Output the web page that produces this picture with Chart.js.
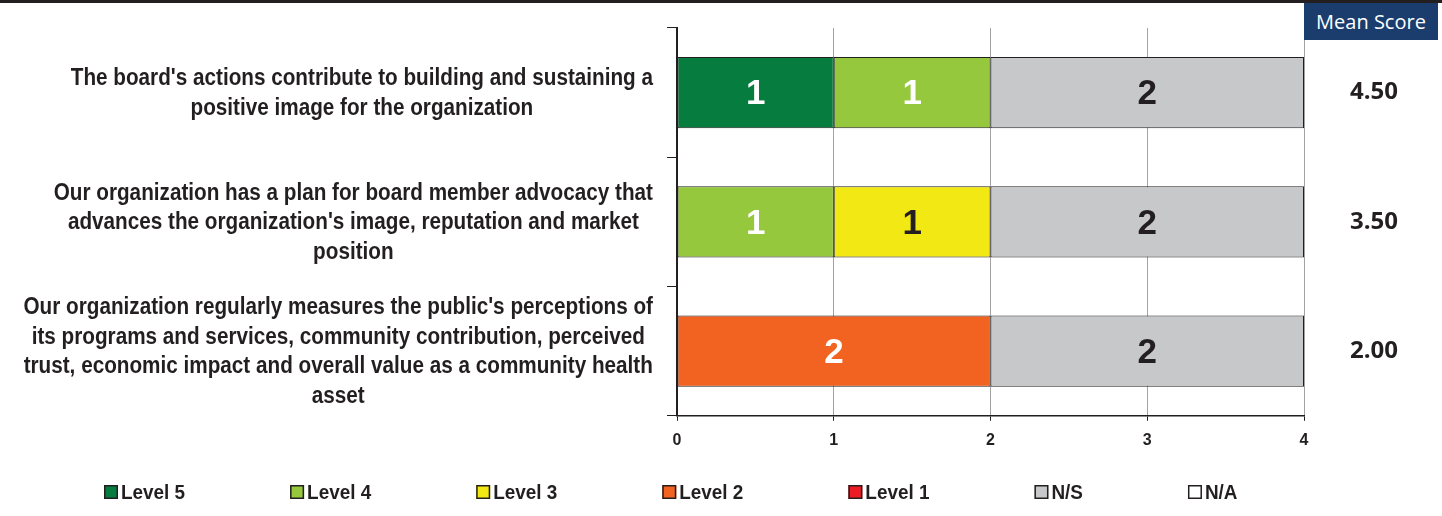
<!DOCTYPE html>
<html>
<head>
<meta charset="utf-8">
<script src="https://cdn.jsdelivr.net/npm/chart.js@4/dist/chart.umd.min.js"></script>
<style>
  html, body { margin: 0; padding: 0; background: #fff; }
  #wrap { position: relative; width: 1442px; height: 516px; overflow: hidden; }
  #topRule { position: absolute; left: 0; top: 0; width: 1442px; height: 3px; background: #231f20; }
  #meanHead {
    position: absolute; left: 1304px; top: 3px; width: 134px; height: 37px;
    background: #1a3d6d; color: #fff; font: 20px "Open Sans", sans-serif;
    display: flex; align-items: center; justify-content: center; z-index: 2;
  }
  canvas { position: absolute; left: 0; top: 0; }
</style>
</head>
<body>
<div id="wrap">
  <canvas id="chart" width="1442" height="516"></canvas>
  <div id="topRule"></div>
  <div id="meanHead">Mean Score</div>
</div>
<script>
// ===== DATA =====
const questions = [
  ["The board's actions contribute to building and sustaining a", "positive image for the organization"],
  ["Our organization has a plan for board member advocacy that", "advances the organization's image, reputation and market", "position"],
  ["Our organization regularly measures the public's perceptions of", "its programs and services, community contribution, perceived", "trust, economic impact and overall value as a community health", "asset"]
];
const meanScores = ["4.50", "3.50", "2.00"];
const levelNames = ["Level 5", "Level 4", "Level 3", "Level 2", "Level 1", "N/S", "N/A"];
const level5 = [1, null, null];
const level4 = [1, 1, null];
const level3 = [null, 1, null];
const level2 = [null, null, 2];
const level1 = [null, null, null];
const notSure = [2, 2, 2];
const notApplicable = [null, null, null];
const xMin = 0, xMax = 4;

// ===== STYLE =====
const INK = "#231f20";
const LABEL_FONT = "bold 23px 'Liberation Sans', Arial, sans-serif";
const LEGEND_FONT = "bold 21px 'Liberation Sans', Arial, sans-serif";
const NARROW_X = 0.9; // squeeze Arial-like glyphs into a condensed look
const levelColors = ["#077c3f", "#95c83d", "#f2e813", "#f26322", "#ed1c24", "#c7c8ca", "#ffffff"];
const valueColors = ["#ffffff", "#ffffff", INK, "#ffffff", "#ffffff", INK, INK];
const series = [level5, level4, level3, level2, level1, notSure, notApplicable];

function narrowText(ctx, text, x, y) {
  ctx.save();
  ctx.translate(x, y);
  ctx.scale(NARROW_X, 1);
  ctx.fillText(text, 0, 0);
  ctx.restore();
}

// ===== PLUGINS =====
// count labels inside the bars
const valueLabels = {
  id: "valueLabels",
  afterDatasetsDraw(chart) {
    const ctx = chart.ctx;
    ctx.save();
    ctx.font = "bold 35px 'Liberation Sans', Arial, sans-serif";
    ctx.textAlign = "center";
    ctx.textBaseline = "middle";
    chart.data.datasets.forEach((ds, i) => {
      chart.getDatasetMeta(i).data.forEach((bar, j) => {
        const v = ds.data[j];
        if (!v) return;
        ctx.fillStyle = valueColors[i];
        ctx.fillText(String(v), (bar.x + bar.base) / 2, bar.y + 2);
      });
    });
    ctx.restore();
  }
};

// question text on the left: each block right-aligned to the axis, lines centred in it
const questionLabels = {
  id: "questionLabels",
  afterDraw(chart) {
    const ctx = chart.ctx;
    const yScale = chart.scales.y;
    const right = yScale.right - 24;
    const lh = 29.5;
    ctx.save();
    ctx.font = LABEL_FONT;
    ctx.fillStyle = INK;
    ctx.textAlign = "center";
    ctx.textBaseline = "middle";
    questions.forEach((lines, i) => {
      const widest = Math.max(...lines.map(t => ctx.measureText(t).width * NARROW_X));
      const cx = right - widest / 2;
      const cy = yScale.getPixelForTick(i) + 1;
      lines.forEach((t, k) => narrowText(ctx, t, cx, cy + (k - (lines.length - 1) / 2) * lh));
    });
    ctx.restore();
  }
};

// legend row at the bottom
const bottomLegend = {
  id: "bottomLegend",
  afterDraw(chart) {
    const ctx = chart.ctx;
    ctx.save();
    ctx.font = LEGEND_FONT;
    ctx.textBaseline = "middle";
    ctx.textAlign = "left";
    let x = 104;
    const y = 492;
    chart.data.datasets.forEach(ds => {
      ctx.fillStyle = ds.backgroundColor;
      ctx.fillRect(x, y - 7, 14, 14);
      ctx.strokeStyle = INK;
      ctx.lineWidth = 1.5;
      ctx.strokeRect(x + 0.75, y - 6.25, 12.5, 12.5);
      ctx.fillStyle = INK;
      narrowText(ctx, ds.label, x + 17, y + 1);
      x += 17 + ctx.measureText(ds.label).width * NARROW_X + 105;
    });
    ctx.restore();
  }
};

const chart = new Chart(document.getElementById("chart"), {
  type: "bar",
  data: {
    labels: questions.map(q => q.join(" ")),
    datasets: series.map((data, i) => ({
      label: levelNames[i],
      data: data,
      backgroundColor: levelColors[i],
      borderColor: INK,
      borderWidth: 1,
      borderSkipped: false,
      barPercentage: 0.55,
      categoryPercentage: 1
    }))
  },
  options: {
    indexAxis: "y",
    responsive: false,
    animation: false,
    layout: { padding: { top: 28, right: 44, bottom: 56, left: 0 } },
    plugins: {
      legend: { display: false },
      tooltip: { enabled: false }
    },
    scales: {
      x: {
        stacked: true,
        min: xMin,
        max: xMax,
        ticks: { stepSize: 1, padding: 10, color: INK, font: { family: "'Liberation Sans', Arial, sans-serif", size: 16, weight: "bold" } },
        grid: { color: "#a3a3a3", lineWidth: 1, tickColor: INK, tickLength: 5 },
        border: { color: INK, width: 1.5 }
      },
      y: {
        stacked: true,
        afterFit: s => { s.width = 677; s.paddingTop = 0; s.paddingBottom = 0; },
        ticks: { display: false, autoSkip: false },
        grid: { drawOnChartArea: false, drawTicks: true, tickLength: 10, offset: true, tickColor: INK },
        border: { color: INK, width: 2 }
      },
      yMean: {
        type: "category",
        position: "right",
        labels: meanScores,
        offset: true,
        afterFit: s => { s.width = 94; s.paddingTop = 0; s.paddingBottom = 0; },
        ticks: {
          crossAlign: "far", color: INK, autoSkip: false,
          font: { family: '"Open Sans", sans-serif', size: 24, weight: "bold" }
        },
        grid: { display: false },
        border: { display: false }
      }
    }
  },
  plugins: [valueLabels, questionLabels, bottomLegend]
});
</script>
</body>
</html>
